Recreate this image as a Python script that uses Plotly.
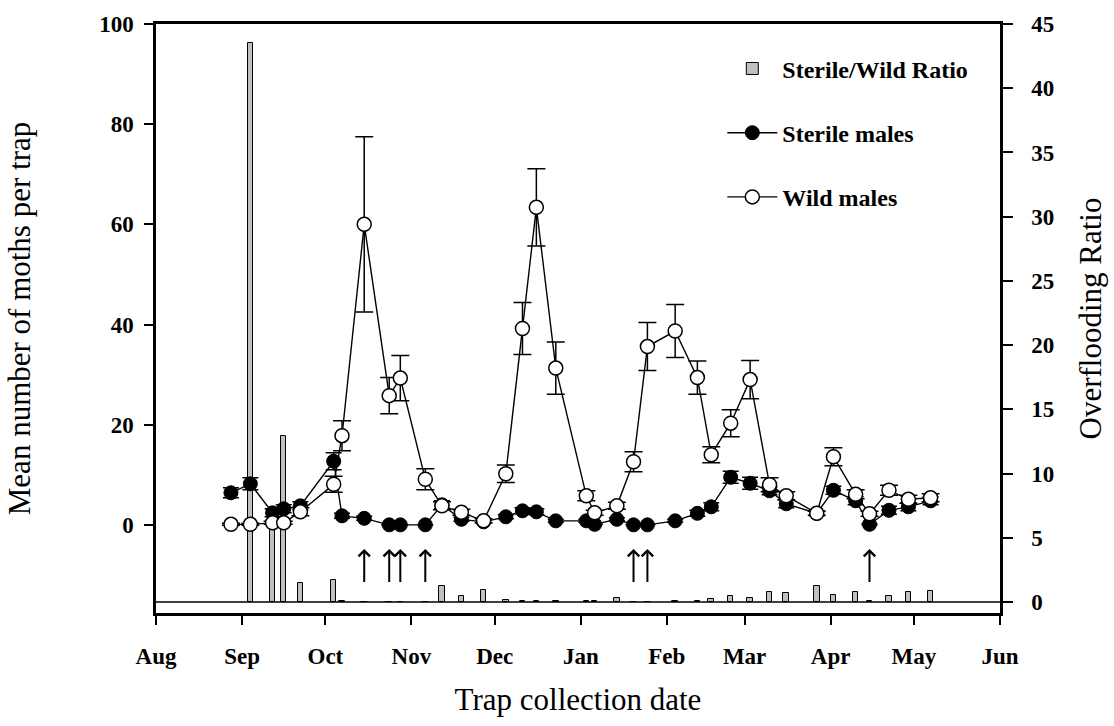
import plotly.graph_objects as go

# ---------------- data ----------------
dates = ["2016-08-28", "2016-09-04", "2016-09-12", "2016-09-16", "2016-09-22",
         "2016-10-04", "2016-10-07", "2016-10-15", "2016-10-24", "2016-10-28",
         "2016-11-06", "2016-11-12", "2016-11-19", "2016-11-27", "2016-12-05",
         "2016-12-11", "2016-12-16", "2016-12-23", "2017-01-03", "2017-01-06",
         "2017-01-14", "2017-01-20", "2017-01-25", "2017-02-04", "2017-02-12",
         "2017-02-17", "2017-02-24", "2017-03-03", "2017-03-10", "2017-03-16",
         "2017-03-27", "2017-04-02", "2017-04-10", "2017-04-15", "2017-04-22",
         "2017-04-29", "2017-05-07"]

sterile = [6.4, 8.2, 2.4, 3.2, 3.8, 12.7, 1.8, 1.3, 0, 0,
           0, 4.0, 1.1, 0.6, 1.6, 2.8, 2.6, 0.8, 0.8, 0.1,
           1.1, 0, 0, 0.8, 2.3, 3.6, 9.5, 8.3, 6.8, 4.2,
           2.3, 6.9, 4.8, 0.1, 2.9, 3.6, 4.8]
sterile_err = [1.0, 1.2, 0.8, 0.8, 0.8, 1.7, 0.5, 0.4, 0, 0,
               0, 0.8, 0.4, 0.3, 0.4, 0.6, 0.6, 0.3, 0.3, 0.1,
               0.3, 0, 0, 0.3, 0.6, 0.8, 1.2, 1.2, 0.8, 0.8,
               0.5, 0.8, 0.8, 0.1, 0.8, 0.8, 0.8]

wild = [0.1, 0.1, 0.4, 0.4, 2.6, 8.1, 17.8, 60.0, 25.8, 29.3,
        9.1, 3.8, 2.5, 0.8, 10.2, 39.2, 63.4, 31.3, 5.8, 2.4,
        3.8, 12.6, 35.6, 38.7, 29.4, 14.0, 20.3, 29.0, 8.0, 5.8,
        2.3, 13.6, 6.1, 2.2, 6.9, 5.1, 5.4]
wild_err = [0.2, 0.2, 0.3, 0.3, 0.8, 1.6, 3.0, 17.5, 3.6, 4.5,
            2.1, 0.8, 0.6, 0.4, 1.75, 5.2, 7.7, 5.2, 1.0, 0.5,
            0.7, 2.0, 4.8, 5.3, 3.3, 1.6, 2.7, 3.8, 1.4, 0.8,
            0.4, 1.8, 0.9, 0.5, 1.0, 0.8, 0.8]

ratio = [None, 43.5, 7.0, 12.9, 1.5, 1.7, 0.1, 0, 0, 0,
         0, 1.25, 0.5, 0.95, 0.2, 0.1, 0.08, 0.07, 0.12, 0.12,
         0.34, 0, 0, 0.05, 0.1, 0.25, 0.45, 0.3, 0.8, 0.72,
         1.25, 0.55, 0.8, 0.08, 0.45, 0.77, 0.88]

release_dates = ["2016-10-15", "2016-10-24", "2016-10-28", "2016-11-06",
                 "2017-01-20", "2017-01-25", "2017-04-15"]

month_ticks = ["2016-08-01", "2016-09-01", "2016-10-01", "2016-11-01", "2016-12-01",
               "2017-01-01", "2017-02-01", "2017-03-01", "2017-04-01", "2017-05-01",
               "2017-06-01"]
month_labels = ["Aug", "Sep", "Oct", "Nov", "Dec", "Jan", "Feb", "Mar", "Apr", "May", "Jun"]

left_ticks = [0, 20, 40, 60, 80, 100]
right_ticks = [0, 5, 10, 15, 20, 25, 30, 35, 40, 45]

# ---------------- figure ----------------
FONT = "Liberation Serif"
DAY_MS = 86400000

fig = go.Figure()

fig.add_trace(go.Bar(
    x=dates, y=ratio, name="Sterile/Wild Ratio", yaxis="y", legendgroup="g1",
    width=2.0 * DAY_MS,
    marker=dict(color="#c0c0c0", line=dict(color="black", width=1)),
))

fig.add_trace(go.Scatter(
    x=dates, y=sterile, name="Sterile males", yaxis="y2", legendgroup="g2",
    mode="lines+markers",
    line=dict(color="black", width=1.4),
    marker=dict(symbol="circle", size=14, color="black", line=dict(color="black", width=1)),
    error_y=dict(type="data", array=sterile_err, visible=True, color="black", thickness=1.5, width=8),
))

fig.add_trace(go.Scatter(
    x=dates, y=wild, name="Wild males", yaxis="y2", legendgroup="g3",
    mode="lines+markers",
    line=dict(color="black", width=1.4),
    marker=dict(symbol="circle", size=14, color="white", line=dict(color="black", width=1.5)),
    error_y=dict(type="data", array=wild_err, visible=True, color="black", thickness=1.5, width=9),
))

for d in release_dates:
    fig.add_annotation(
        x=d, y=-4.8, xref="x", yref="y2",
        ax=d, ay=-11.7, axref="x", ayref="y2",
        text="", showarrow=True, arrowhead=4, arrowsize=1.1, arrowwidth=2, arrowcolor="black",
    )

# baseline of the ratio axis
fig.add_shape(type="line", xref="paper", yref="y", x0=0, x1=1, y0=0, y1=0,
              line=dict(color="black", width=1.5), layer="below")

tickfont = dict(family=FONT, size=23, color="black", weight="bold")
titlefont = dict(family=FONT, size=31, color="black")

fig.update_layout(
    width=1114, height=726,
    margin=dict(l=156, r=110, t=18, b=113),
    paper_bgcolor="white", plot_bgcolor="white",
    showlegend=True,
    legend=dict(
        x=0.671, y=0.962, xanchor="left", yanchor="top",
        font=dict(family=FONT, size=24, color="black", weight="bold"),
        bgcolor="rgba(0,0,0,0)", tracegroupgap=30, traceorder="grouped",
        itemwidth=50,
    ),
    xaxis=dict(
        type="date", range=["2016-08-01", "2017-06-01"],
        tickvals=month_ticks, ticktext=month_labels,
        ticks="outside", ticklen=9, tickwidth=2, tickcolor="black",
        showline=True, linewidth=2.5, linecolor="black", mirror=True,
        showgrid=False, zeroline=False, tickfont=tickfont,
        ticklabelstandoff=12,
        title=dict(text="Trap collection date", font=titlefont, standoff=20),
    ),
    yaxis=dict(
        side="right", range=[-0.85, 45], tickvals=right_ticks,
        ticks="outside", ticklen=10, tickwidth=2, tickcolor="black",
        showline=True, linewidth=2.5, linecolor="black",
        showgrid=False, zeroline=False, tickfont=tickfont,
        ticklabelstandoff=14,
        title=dict(text="Overflooding Ratio", font=titlefont, standoff=26),
    ),
    yaxis2=dict(
        side="left", overlaying="y", range=[-17.6, 100], tickvals=left_ticks,
        ticks="outside", ticklen=9, tickwidth=2, tickcolor="black",
        showline=True, linewidth=2.5, linecolor="black",
        showgrid=False, zeroline=False, tickfont=tickfont,
        ticklabelstandoff=6,
        title=dict(text="Mean number of moths per trap", font=titlefont, standoff=60),
    ),
    bargap=0,
)

fig.write_html("out.html")
